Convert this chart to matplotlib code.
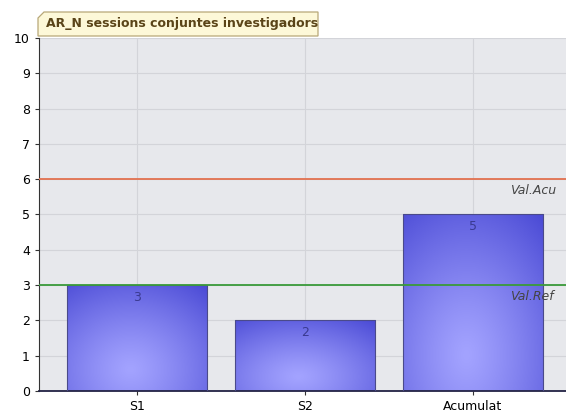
import matplotlib
matplotlib.use("Agg")
import matplotlib.pyplot as plt
import numpy as np
from matplotlib.patches import Rectangle, Polygon

categories = ["S1", "S2", "Acumulat"]
values = [3, 2, 5]
ref_lines = [6, 3]
ref_labels = ["Val.Acu", "Val.Ref"]
ref_colors = ["#e2714f", "#3a9a3a"]
title = "AR_N sessions conjuntes investigadors"

W, H = 566, 416
fig = plt.figure(figsize=(W / 100, H / 100), dpi=100)
fig.patch.set_facecolor("white")
ax = fig.add_axes([39 / W, 1 - 391 / H, (W - 39) / W, (391 - 38) / H])
ax.set_facecolor("#e7e8ec")

x = np.arange(len(categories))
width = 0.835

# grid
for yv in range(1, 11):
    ax.axhline(yv, color="#d3d4d9", lw=0.8, zorder=0)
for xv in x:
    ax.axvline(xv, color="#d3d4d9", lw=0.8, zorder=0)

# gradient image
ny, nx = 100, 100
gy, gx = np.mgrid[0:1:ny * 1j, 0:1:nx * 1j]
dist = np.sqrt(((gx - 0.45) / 0.85) ** 2 + ((gy - 0.2) / 1.0) ** 2)
dist = np.clip(dist, 0, 1) ** 1.2
light = np.array([0.64, 0.64, 1.0])
dark = np.array([0.30, 0.30, 0.84])
img = light[None, None, :] * (1 - dist[..., None]) + dark[None, None, :] * dist[..., None]

bars = ax.bar(x, values, width=width, color="none", edgecolor="#4a4a8a", lw=0.8, zorder=3)
for b, v in zip(bars, values):
    x0, w = b.get_x(), b.get_width()
    im = ax.imshow(img, extent=[x0, x0 + w, 0, v], origin="lower", aspect="auto", zorder=2)
    im.set_clip_path(Rectangle((x0, 0), w, v, transform=ax.transData))
    ax.text(b.get_x() + w / 2, v - 0.35, str(v), ha="center", va="center",
            fontsize=9, color="#3a3a90", zorder=4)
ax.set_xlim(-0.583, 2.554)
ax.set_ylim(0, 10)

for yv, lab, c in zip(ref_lines, ref_labels, ref_colors):
    ax.axhline(yv, color=c, lw=1.3, zorder=5)
    ax.text(2.22, yv - 0.13, lab, ha="left", va="top", fontsize=9,
            style="italic", color="#444444", zorder=6)

ax.set_xticks(x)
ax.set_xticklabels(categories, fontsize=9)
ax.set_yticks(range(0, 11))
ax.tick_params(axis="y", labelsize=9, length=3, color="#333333")
ax.tick_params(axis="x", length=3, color="#333333")
for s in ["top", "right"]:
    ax.spines[s].set_visible(False)
ax.spines["left"].set_color("#333333")
ax.spines["bottom"].set_color("#222244")
ax.spines["bottom"].set_linewidth(1.3)

# title tab
x0, x1, y0, y1 = 38 / W, 318 / W, 1 - 36 / H, 1 - 12 / H
tab = Polygon([[x0, y0], [x0, y1 - 6 / H], [x0 + 6 / W, y1], [x1, y1], [x1, y0]],
              closed=True, transform=fig.transFigure, facecolor="#fdf8d8",
              edgecolor="#b8a878", lw=0.9, zorder=10)
fig.patches.append(tab)
fig.text(x0 + 8 / W, (y0 + y1) / 2, title, ha="left", va="center", fontsize=9,
         fontweight="bold", color="#5a4418", zorder=11)

fig.savefig("out.png", dpi=100)
